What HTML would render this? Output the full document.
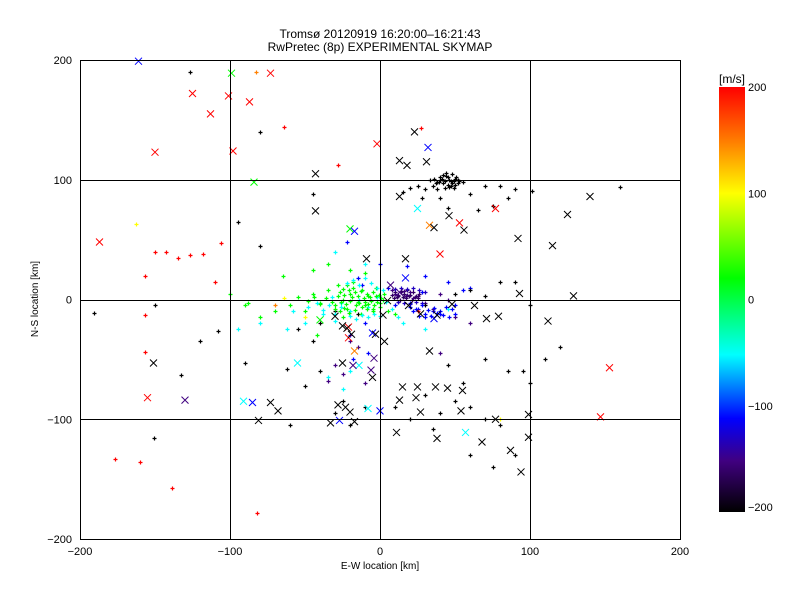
<!DOCTYPE html>
<html><head><meta charset="utf-8"><style>
body{margin:0;background:#fff;}
svg{display:block;font-family:"Liberation Sans","DejaVu Sans",sans-serif;}
</style></head><body>
<svg id="chart" width="800" height="600">
<rect width="800" height="600" fill="#fff"/>
<text x="380" y="38" font-size="12" text-anchor="middle">Tromsø 20120919 16:20:00–16:21:43</text>
<text x="380" y="51" font-size="12" text-anchor="middle">RwPretec (8p) EXPERIMENTAL SKYMAP</text>
<g id="marks"></g>
<g id="axes"></g>
<defs><linearGradient id="cg" x1="0" y1="1" x2="0" y2="0">
<stop offset="0" stop-color="#000"/><stop offset="0.12" stop-color="#400080"/><stop offset="0.22" stop-color="#0000ff"/><stop offset="0.37" stop-color="#00ffff"/><stop offset="0.55" stop-color="#00ff00"/><stop offset="0.75" stop-color="#ffff00"/><stop offset="0.87" stop-color="#ff8000"/><stop offset="1" stop-color="#ff0000"/>
</linearGradient></defs>
<rect x="719" y="87" width="26" height="425" fill="url(#cg)"/>
<text x="732" y="83" font-size="12" text-anchor="middle">[m/s]</text>
<g id="cbt" font-size="11"></g>
</svg>
<script>
const xTicks=[-200,-100,0,100,200];
const yTicks=[-200,-100,0,100,200];
const cbTicks=[200,100,0,-100,-200];
// big X markers
const bigX=[-125,-113,-101,-87,-98,-73,-150,-187,-2,-155,153,147,40,53,77,-21,-21,-99,-84,-20,-40,-55,57,25,-91,-14,-8,-161,-17,32,-85,-27,-5,0,36,17,-130,-18,-4,-6,13,7,33,-17,13,23,18,31,-43,-43,13,46,56,36,-9,17,140,125,115,92,93,129,79,33,15,25,13,24,37,45,55,54,27,11,38,68,99,99,77,87,94,112,71,63,-23,-20,-33,-17,-25,-28,5,19,27,48,38,-68,-73,-81,-151,-25,-22,-19,-3,2,3,-5,-30];
const bigY=[172,155,170,165,124,189,123,48,130,-82,-57,-98,38,64,76,-23,-32,189,98,59,-17,-53,-111,76,-85,-55,-91,199,57,127,-86,-101,-28,-93,-16,18,-84,-55,-49,-59,6,12,62,-43,116,140,112,115,105,74,86,70,58,60,34,34,86,71,45,51,5,3,-14,-43,-73,-73,-84,-82,-73,-74,-76,-93,-94,-111,-116,-119,-96,-115,-100,-126,-144,-18,-16,-5,-90,-94,-103,-102,-53,-88,-1,-5,-12,-4,-13,-93,-86,-101,-53,-22,-24,-29,-29,-13,-35,-65,-14];
const bigV=[200,200,200,200,200,200,200,200,200,200,200,200,200,200,200,200,200,20,20,20,20,-50,-50,-50,-50,-50,-50,-110,-110,-110,-110,-110,-110,-110,-110,-110,-150,-150,-150,-150,-150,-150,150,150,-200,-200,-200,-200,-200,-200,-200,-200,-200,-200,-200,-200,-200,-200,-200,-200,-200,-200,-200,-200,-200,-200,-200,-200,-200,-200,-200,-200,-200,-200,-200,-200,-200,-200,-200,-200,-200,-200,-200,-200,-200,-200,-200,-200,-200,-200,-200,-200,-200,-200,-200,-200,-200,-200,-200,-200,-200,-200,-200,-200,-200,-200,-200];
// small + markers
const smX=[-60,-55,-50,-45,-40,-35,-30,-28,-25,-22,-20,-18,-15,-12,-10,-8,-5,-3,0,3,-70,-80,-90,-100,-88,-65,-45,-35,-20,-10,-25,5,10,-42,
-58,-48,-38,-32,-26,-20,-14,-8,-2,4,8,12,-30,-50,-80,-95,-62,-20,-35,-25,15,-10,-30,30,45,
-15,-12,0,-10,-20,5,10,20,25,30,35,40,50,55,60,28,45,30,18,-22,-18,-8,
10,12,14,15,16,18,20,17,8,22,12,25,30,35,40,45,-20,-15,-30,-35,-10,-25,50,40,60,
35,38,40,42,45,47,50,43,38,48,52,55,33,30,25,20,15,28,40,60,70,80,90,85,75,65,45,30,50,60,70,80,90,100,-15,-30,-40,-45,-55,-62,-50,-40,-25,-10,-30,-20,-60,10,20,40,30,50,60,70,80,100,120,110,95,35,60,75,90,85,70,55,45,
-127,-80,-45,101,160,-108,-90,-191,-151,-133,-80,-95,-120,-150,
27,-64,-28,-127,-135,-143,-118,-157,-157,-157,-139,-160,-177,-82,-106,-110,-150,25,
-163,-64,80,-50,-83,-70];
const smY=[-5,2,-10,5,-3,8,-5,12,0,-8,5,15,-2,8,-5,3,-8,10,-3,5,-10,-15,-5,5,-3,20,25,30,25,22,-15,-10,-12,-30,
-10,-6,-12,2,-3,-10,0,-6,2,-2,-8,-15,-18,-20,-20,-25,-25,-60,-65,-75,-20,30,40,-25,-8,
18,12,30,-20,-30,10,-5,-3,-8,-15,-10,-12,-5,8,10,6,15,20,28,48,-50,-45,
5,4,6,2,7,4,6,3,8,1,-2,3,-3,-8,5,0,-35,-40,-55,-68,-70,-62,-15,-45,-20,
95,98,100,97,102,99,96,93,92,105,100,98,100,92,95,93,90,85,85,88,95,95,92,85,78,75,76,-5,5,8,3,15,15,-5,-12,-10,-20,-35,-25,-58,-72,-60,-85,-90,-95,-105,-105,-90,-100,-95,-80,-85,-90,-100,-105,-70,-40,-50,-60,-108,-130,-140,-130,-60,-50,-70,-55,
190,140,88,91,94,-26,-53,-11,-116,-63,45,65,-35,-5,
143,144,112,37,35,40,38,20,-13,-44,-157,-136,-133,-178,47,15,40,-10,
63,1,-100,-15,190,-5];
const smV=[20,20,20,20,20,20,20,20,20,20,20,20,20,20,20,20,20,20,20,20,20,20,20,20,20,20,20,20,20,20,20,20,20,20,
-50,-50,-50,-50,-50,-50,-50,-50,-50,-50,-50,-50,-50,-50,-50,-50,-50,-50,-50,-50,-50,-50,-50,-50,-50,
-110,-110,-110,-110,-110,-110,-110,-110,-110,-110,-110,-110,-110,-110,-110,-110,-110,-110,-110,-110,-110,-110,
-150,-150,-150,-150,-150,-150,-150,-150,-150,-150,-150,-150,-150,-150,-150,-150,-150,-150,-150,-150,-150,-150,-150,-150,-150,
-200,-200,-200,-200,-200,-200,-200,-200,-200,-200,-200,-200,-200,-200,-200,-200,-200,-200,-200,-200,-200,-200,-200,-200,-200,-200,-200,-200,-200,-200,-200,-200,-200,-200,-200,-200,-200,-200,-200,-200,-200,-200,-200,-200,-200,-200,-200,-200,-200,-200,-200,-200,-200,-200,-200,-200,-200,-200,-200,-200,-200,-200,-200,-200,-200,-200,-200,
-200,-200,-200,-200,-200,-200,-200,-200,-200,-200,-200,-200,-200,-200,
200,200,200,200,200,200,200,200,200,200,200,200,200,200,200,200,200,200,
100,100,100,100,150,150];
// extra dense-cluster small markers
const clX=[-27,-24,-21,-19,-17,-15,-13,-11,-9,-7,-5,-3,-1,1,-26,-23,-20,-16,-14,-12,-10,-8,-6,-4,-2,0,2,-18,-22,-25,-28,-32,-36,-40,-44,-48,-30,-27,-24,-21,-17,-13,-9,-5,
-22,-18,-14,-10,-6,-2,2,-20,-16,-12,-8,-4,0,-26,-30,-34,-38,-42,
8,10,12,14,16,18,20,22,24,26,9,11,13,15,17,19,21,23,25,10,14,18,22,26,30,12,16,20,24,28,
20,24,28,32,36,40,44,48,30,34,38,42,46,50,26,22,
39,41,43,44,46,48,50,42,45,47,49,51,40,44,53,37,36,46,49,52];
const clY=[6,4,8,2,6,3,7,1,5,2,6,3,4,1,-2,-4,-1,-5,-3,-6,-2,-4,-1,-5,-2,-6,0,10,12,9,3,-2,1,-4,2,-1,-8,-10,-7,-11,-9,-12,-8,-10,
14,16,12,18,14,10,8,-14,-16,-13,-15,-12,-14,-6,-12,-5,-9,-3,
4,6,3,7,5,8,4,6,3,5,1,2,0,2,1,3,0,2,1,9,10,9,10,8,6,-2,-3,-4,-2,-3,
-6,-8,-5,-9,-7,-10,-6,-8,-12,-14,-11,-13,-15,-12,-14,-10,
98,101,99,103,100,97,101,104,96,95,99,102,102,106,99,97,101,94,93,97];
const clV=[20,20,20,20,20,20,20,20,20,20,20,20,20,20,20,20,20,20,20,20,20,20,20,20,20,20,20,20,20,20,20,20,20,20,20,20,20,20,20,20,20,20,20,20,
-50,-50,-50,-50,-50,-50,-50,-50,-50,-50,-50,-50,-50,-50,-50,-50,-50,-50,
-160,-160,-160,-160,-160,-160,-160,-160,-160,-160,-160,-160,-160,-160,-160,-160,-160,-160,-160,-130,-130,-130,-130,-130,-130,-130,-130,-130,-130,-130,
-110,-110,-110,-110,-110,-110,-110,-110,-110,-110,-110,-110,-110,-110,-110,-110,
-200,-200,-200,-200,-200,-200,-200,-200,-200,-200,-200,-200,-200,-200,-200,-200,-200,-200,-200,-200];

const NS='http://www.w3.org/2000/svg';
const X0=80,X1=680,Y0=539,Y1=60;
const sx=v=>X0+(v+200)/400*(X1-X0);
const sy=v=>Y0-(v+200)/400*(Y0-Y1);
const stops=[[-200,[0,0,0]],[-150,[64,0,128]],[-110,[0,0,255]],[-50,[0,255,255]],[20,[0,255,0]],[100,[255,255,0]],[150,[255,128,0]],[200,[255,0,0]]];
function col(v){for(let i=1;i<stops.length;i++){if(v<=stops[i][0]){const a=stops[i-1],b=stops[i];const t=(v-a[0])/(b[0]-a[0]);const c=a[1].map((q,k)=>Math.round(q+(b[1][k]-q)*t));return `rgb(${c})`;}}return 'rgb(255,0,0)';}
function el(t,at,p){const e=document.createElementNS(NS,t);for(const k in at)e.setAttribute(k,at[k]);p.appendChild(e);return e;}
const marks=document.getElementById('marks');
const allX=smX.concat(clX),allY=smY.concat(clY),allV=smV.concat(clV);
for(let i=0;i<allX.length;i++){const x=Math.round(sx(allX[i]))+.5,y=Math.round(sy(allY[i]))+.5;
 const p=el('path',{d:`M${x-2},${y}H${x+2}M${x},${y-2}V${y+2}`,stroke:col(allV[i]),'stroke-width':1.2,fill:'none'},marks);
 
 }
for(let i=0;i<bigX.length;i++){const x=sx(bigX[i]),y=sy(bigY[i]);
 const p=el('path',{d:`M${x-3.5},${y-3.5}L${x+3.5},${y+3.5}M${x-3.5},${y+3.5}L${x+3.5},${y-3.5}`,stroke:col(bigV[i]),'stroke-width':1,fill:'none'},marks);
 
 }
const ax=document.getElementById('axes');
el('rect',{x:X0+.5,y:Y1+.5,width:X1-X0,height:Y0-Y1,fill:'none',stroke:'#000'},ax);
[-100,0,100].forEach(v=>{const x=Math.round(sx(v))+.5;const g=el('line',{x1:x,x2:x,y1:Y1,y2:Y0,stroke:'#000'},ax);
 const y=Math.round(sy(v))+.5;const h=el('line',{x1:X0,x2:X1,y1:y,y2:y,stroke:'#000'},ax);});
xTicks.forEach(v=>{const t=el('text',{x:sx(v),y:555,'font-size':11,'text-anchor':'middle'},ax);t.textContent=v===0?'0':String(v).replace('-','−');});
yTicks.forEach(v=>{const t=el('text',{x:72,y:sy(v)+4,'font-size':11,'text-anchor':'end'},ax);t.textContent=v===0?'0':String(v).replace('-','−');});
const xt=el('text',{x:380,y:569,'font-size':10,'text-anchor':'middle'},ax);xt.textContent='E-W location [km]';


const yt=el('text',{x:38,y:299,'font-size':10,'text-anchor':'middle',transform:'rotate(-90 38 299)'},ax);yt.textContent='N-S location [km]';


const cbt=document.getElementById('cbt');
cbTicks.forEach(v=>{const y=87+(200-v)/400*425;const t=el('text',{x:748,y:Math.min(y+4,511),'font-size':11},cbt);t.textContent=v===0?'0':String(v).replace('-','−');});
</script>
</body></html>
